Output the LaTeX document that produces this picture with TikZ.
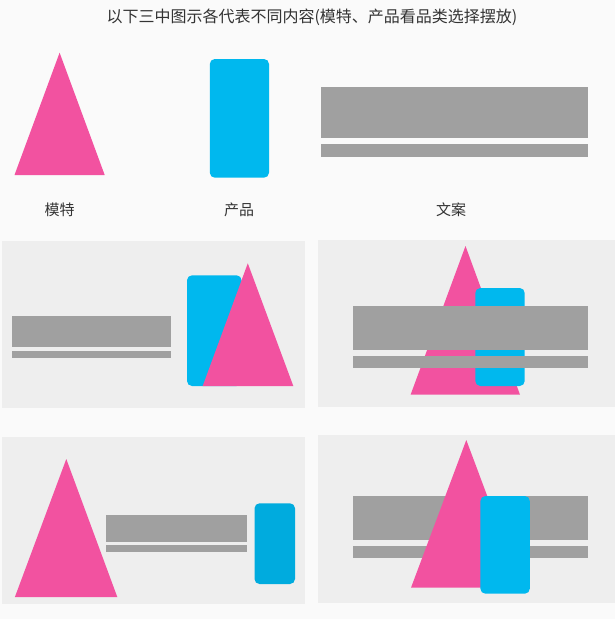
\documentclass[tikz,border=0pt]{standalone}
\usepackage{fontspec}
\newfontfamily\cjk{Noto Sans CJK SC}
\usepackage{xcolor}
\usepackage{tikz}

\definecolor{modelpink}{HTML}{F252A0}
\definecolor{prodblue}{HTML}{00B8EE}
\definecolor{proddark}{HTML}{00ABDE}
\definecolor{copygray}{HTML}{A0A0A0}
\definecolor{panelgray}{HTML}{EEEEEE}
\definecolor{pagegray}{HTML}{FAFAFA}

\begin{document}
\begin{tikzpicture}[x=1pt,y=-1pt,
  model/.style={fill=modelpink},
  product/.style={fill=prodblue, rounded corners=5pt},
  copytext/.style={fill=copygray},
  panel/.style={fill=panelgray},
  caption/.style={font=\cjk\fontsize{15}{18}\selectfont, text=black!80}]

\fill[pagegray] (0,0) rectangle (615,619);
\useasboundingbox (0,0) rectangle (615,619);

\node[caption, font=\cjk\fontsize{16}{19}\selectfont] (title) at (312,17) {以下三中图示各代表不同内容(模特、产品看品类选择摆放)};

% legend row
\fill[model] (59.6,52.7) -- (104.7,175) -- (14.5,175) -- cycle; %model%
\fill[product] (209.8,59) rectangle (269,177.7); %product%
\fill[copytext] (321,87) rectangle (588,137.7); %copy%
\fill[copytext] (321,144) rectangle (588,156.7);
\node[caption] (lmodel) at (59.5,210) {模特};
\node[caption] (lprod) at (239,210) {产品};
\node[caption] (lcopy) at (451,210) {文案};

% layout 1: copy left, product and model right
\fill[panel] (1.6,240.7) rectangle (305,407.7);
\fill[copytext] (11.8,316) rectangle (171,346.7);
\fill[copytext] (11.8,350.7) rectangle (171,358);
\fill[product] (187,275.3) rectangle (241.6,386);
\fill[model] (247.8,263.3) -- (293.3,386) -- (202.7,386) -- cycle;

% layout 2: copy over model and product
\fill[panel] (318,240) rectangle (615,406.7);
\fill[model] (465.5,246) -- (520,394.7) -- (410.6,394.7) -- cycle;
\fill[product] (475.3,288) rectangle (524.7,386);
\fill[copytext] (353,306) rectangle (588,350);
\fill[copytext] (353,356) rectangle (588,367.7);

% layout 3: model, copy, product in a row
\fill[panel] (1.6,437.3) rectangle (305,604);
\fill[model] (66.3,459) -- (117.3,597) -- (14.9,597) -- cycle;
\fill[copytext] (105.9,515) rectangle (247,542);
\fill[copytext] (105.9,545.3) rectangle (247,552);
\fill[product, fill=proddark] (254.5,503.3) rectangle (295,584);

% layout 4: model and product over copy
\fill[panel] (318,435.3) rectangle (615,602.7);
\fill[copytext] (353,496) rectangle (588,540);
\fill[copytext] (353,546) rectangle (588,557.7);
\fill[model] (466.3,440) -- (521.6,587.7) -- (411,587.7) -- cycle;
\fill[product] (480.4,496) rectangle (529.8,593.7);
\end{tikzpicture}
\end{document}
